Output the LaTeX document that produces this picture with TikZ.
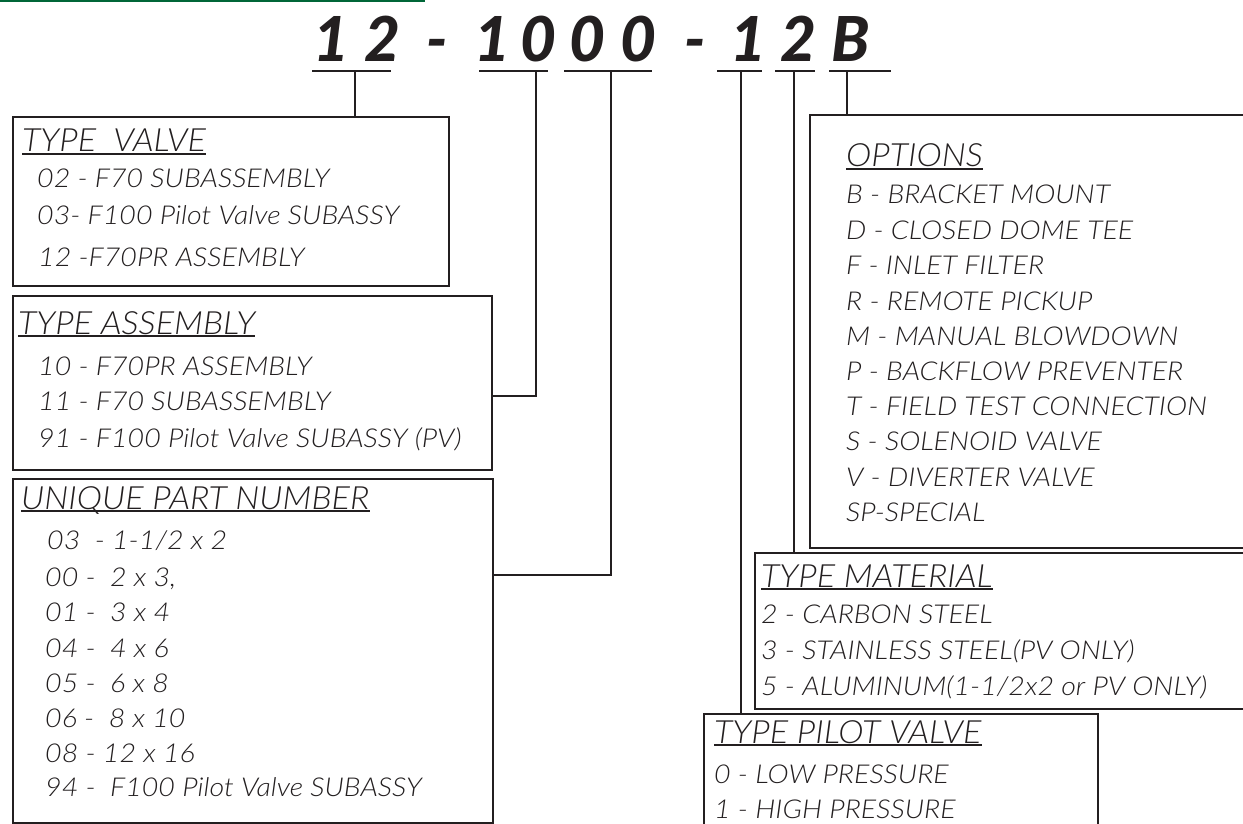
\documentclass[tikz,border=0pt]{standalone}
\usepackage{fontspec}
\newfontfamily\bodyfont{Lato Light Italic}[FakeStretch=1.1]
\newfontfamily\headfont{Lato Light Italic}[FakeStretch=1.07]
\newfontfamily\titlefont{Lato Black Italic}
\definecolor{ink}{RGB}{35,31,32}
\definecolor{brandgreen}{RGB}{0,102,56}
\tikzset{
  ln/.style={draw=ink, line width=2.4pt},
  boxshape/.style={draw=ink, line width=2.4pt, fill=white, inner sep=0pt, anchor=north west},
  item/.style={anchor=base west, inner sep=0pt, text=ink, font=\bodyfont\fontsize{26}{26}\selectfont},
  head/.style={anchor=base west, inner sep=0pt, text=ink, font=\headfont\fontsize{32}{32}\selectfont},
  glyph/.style={anchor=base, inner sep=0pt, text=ink, font=\titlefont\fontsize{62}{62}\selectfont},
}
\begin{document}
\begin{tikzpicture}[x=1pt,y=-1pt]
\useasboundingbox (0,0) rectangle (1243,824);
\clip (0,0) rectangle (1243,824);
\fill[white] (0,0) rectangle (1243,824);
% green rule
\draw[brandgreen, line width=2.5pt] (0,0.5) -- (425,0.5);

% title glyphs
\node[glyph] (g1) at (331,62) {1};
\node[glyph] (g2) at (382,62) {2};
\node[glyph] (g3) at (437,62) {-};
\node[glyph] (g4) at (492,62) {1};
\node[glyph] (g5) at (538,62) {0};
\node[glyph] (g6) at (587,62) {0};
\node[glyph] (g7) at (638,62) {0};
\node[glyph] (g8) at (695,62) {-};
\node[glyph] (g9) at (748,62) {1};
\node[glyph] (g10) at (798,62) {2};
\node[glyph] (g11) at (851,62) {B};

% underlines
\coordinate (uAl) at (312,71); \coordinate (uAr) at (391,71); \coordinate (uA) at (355,71);
\coordinate (uBl) at (479,71); \coordinate (uBr) at (548,71); \coordinate (uB) at (536,71);
\coordinate (uCl) at (564,71); \coordinate (uCr) at (652,71); \coordinate (uC) at (611,71);
\coordinate (uDl) at (717,71); \coordinate (uDr) at (762,71); \coordinate (uD) at (741,71);
\coordinate (uEl) at (775,71); \coordinate (uEr) at (815,71); \coordinate (uE) at (794,71);
\coordinate (uFl) at (829,71); \coordinate (uFr) at (891,71); \coordinate (uF) at (847,71);
\foreach \u in {A,B,C,D,E,F} {\draw[ln] (u\u l) -- (u\u r);}

% boxes
\node[boxshape, minimum width=436pt, minimum height=169pt] (tv) at (12,116) {};
\node[boxshape, minimum width=479pt, minimum height=174pt] (ta) at (12,295) {};
\node[boxshape, minimum width=480pt, minimum height=344pt] (upn) at (12,478) {};
\node[boxshape, minimum width=460pt, minimum height=433pt] (opt) at (809,114) {};
\node[boxshape, minimum width=520pt, minimum height=156pt] (mat) at (754,552) {};
\node[boxshape, minimum width=394pt, minimum height=140pt] (pil) at (703,713) {};

% connectors
\draw[ln] (uA) -- (uA |- tv.north);
\draw[ln] (uB) |- ([yshift=-13pt]ta.east);
\draw[ln] (uC) |- ([yshift=-97pt]upn.north east);
\draw[ln] (uD) -- (uD |- pil.north);
\draw[ln] (uE) -- (uE |- mat.north);
\draw[ln] (uF) -- (uF |- opt.north);

% TYPE VALVE
\node[head] (h1) at (22,152) {TYPE\ \ VALVE};
\draw[ln, line width=1.3pt] ([yshift=-2pt]h1.base west) -- ([yshift=-2pt]h1.base east);
\node[item] (t11) at (37,188) {02 - F70 SUBASSEMBLY};
\node[item] (t12) at (37,225) {03- F100 Pilot Valve SUBASSY};
\node[item] (t13) at (38,266) {12 -F70PR ASSEMBLY};

% TYPE ASSEMBLY
\node[head] (h2) at (18,334) {TYPE ASSEMBLY};
\draw[ln, line width=1.3pt] ([yshift=-2pt]h2.base west) -- ([yshift=-2pt]h2.base east);
\node[item] (t21) at (38,375) {10 - F70PR ASSEMBLY};
\node[item] (t22) at (38,410) {11 - F70 SUBASSEMBLY};
\node[item] (t23) at (38,447) {91 - F100 Pilot Valve SUBASSY (PV)};

% UNIQUE PART NUMBER
\node[head] (h3) at (21,509) {UNIQUE PART NUMBER};
\draw[ln, line width=1.3pt] ([yshift=-2pt]h3.base west) -- ([yshift=-2pt]h3.base east);
\node[item] (t31) at (47,549) {03\ \ - 1-1/2 x 2};
\node[item] (t32) at (45,586) {00 -\ \ 2 x 3,};
\node[item] (t33) at (45,621) {01 -\ \ 3 x 4};
\node[item] (t34) at (45,657) {04 -\ \ 4 x 6};
\node[item] (t35) at (45,692) {05 -\ \ 6 x 8};
\node[item] (t36) at (45,727) {06 -\ \ 8 x 10};
\node[item] (t37) at (45,762) {08 - 12 x 16};
\node[item] (t38) at (45,796) {94 -\ \ F100 Pilot Valve SUBASSY};

% OPTIONS
\node[head] (h4) at (846,167) {OPTIONS};
\draw[ln, line width=1.3pt] ([yshift=-2pt]h4.base west) -- ([yshift=-2pt]h4.base east);
\node[item] (o1) at (846,204) {B - BRACKET MOUNT};
\node[item] (o2) at (846,239) {D - CLOSED DOME TEE};
\node[item] (o3) at (846,274) {F - INLET FILTER};
\node[item] (o4) at (846,310) {R - REMOTE PICKUP};
\node[item] (o5) at (846,345) {M - MANUAL BLOWDOWN};
\node[item] (o6) at (846,380) {P - BACKFLOW PREVENTER};
\node[item] (o7) at (846,415) {T - FIELD TEST CONNECTION};
\node[item] (o8) at (846,450) {S - SOLENOID VALVE};
\node[item] (o9) at (846,486) {V - DIVERTER VALVE};
\node[item] (o10) at (846,521) {SP-SPECIAL};

% TYPE MATERIAL
\node[head] (h5) at (761,587) {TYPE\ MATERIAL};
\draw[ln, line width=1.3pt] ([yshift=-2pt]h5.base west) -- ([yshift=-2pt]h5.base east);
\node[item] (m1) at (761,623) {2 - CARBON STEEL};
\node[item] (m2) at (761,659) {3 - STAINLESS STEEL(PV ONLY)};
\node[item] (m3) at (761,695) {5 - ALUMINUM(1-1/2x2 or PV ONLY)};

% TYPE PILOT VALVE
\node[head] (h6) at (714,743) {TYPE PILOT VALVE};
\draw[ln, line width=1.3pt] ([yshift=-2pt]h6.base west) -- ([yshift=-2pt]h6.base east);
\node[item] (p1) at (714,783) {0 - LOW PRESSURE};
\node[item] (p2) at (714,818) {1 - HIGH PRESSURE};
\end{tikzpicture}
\end{document}
